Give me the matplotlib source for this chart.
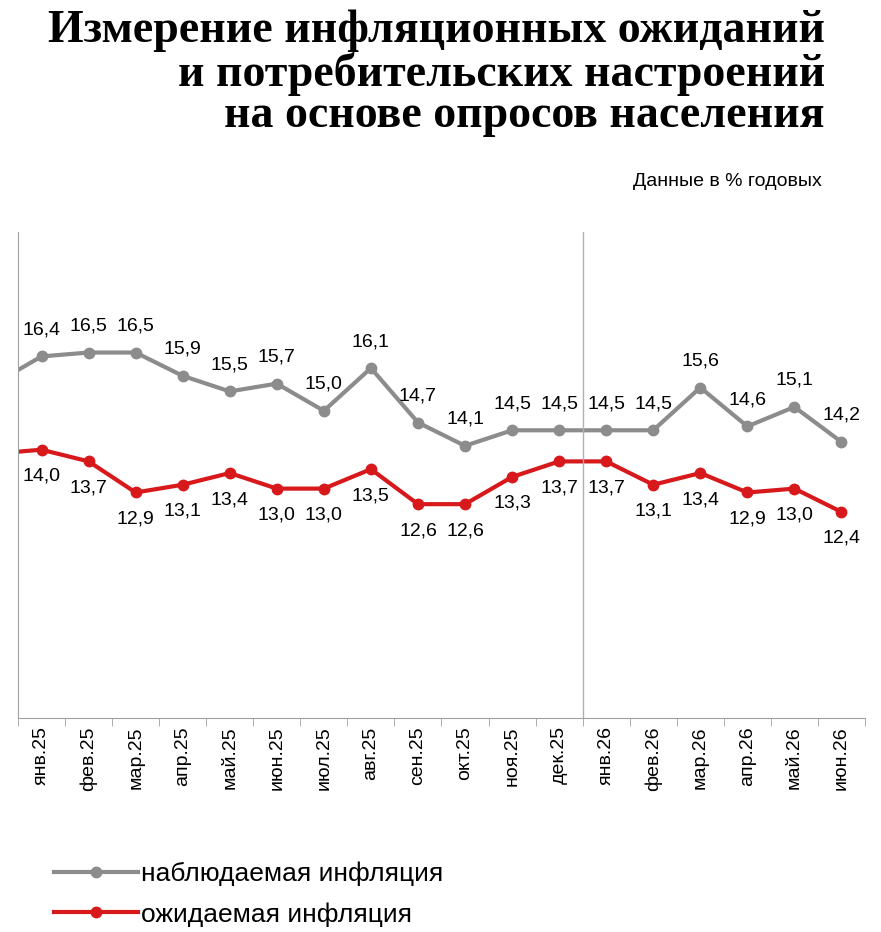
import matplotlib.pyplot as plt

months = ['янв.25', 'фев.25', 'мар.25', 'апр.25', 'май.25', 'июн.25', 'июл.25', 'авг.25',
          'сен.25', 'окт.25', 'ноя.25', 'дек.25', 'янв.26', 'фев.26', 'мар.26', 'апр.26',
          'май.26', 'июн.26']
observed = [16.4, 16.5, 16.5, 15.9, 15.5, 15.7, 15.0, 16.1, 14.7, 14.1, 14.5, 14.5,
            14.5, 14.5, 15.6, 14.6, 15.1, 14.2]
expected = [14.0, 13.7, 12.9, 13.1, 13.4, 13.0, 13.0, 13.5, 12.6, 12.6, 13.3, 13.7,
            13.7, 13.1, 13.4, 12.9, 13.0, 12.4]
# previous month (partly visible at left edge)
observed_prev = 15.7
expected_prev = 13.9

plt.rcParams['font.family'] = ['Liberation Sans', 'DejaVu Sans']
fig = plt.figure(figsize=(8.81, 9.32), dpi=100)
ax = fig.add_axes([18 / 881, 1 - 718 / 932, 847 / 881, 486 / 932])

gray = '#8c8c8c'
red = '#d7191c'
xs = list(range(len(months)))
ax.plot([-1] + xs, [observed_prev] + observed, color=gray, lw=3, marker='o', ms=7.5,
        markevery=list(range(1, len(xs) + 1)), label='наблюдаемая инфляция')
ax.plot([-1] + xs, [expected_prev] + expected, color=red, lw=3, marker='o', ms=7.5,
        markevery=list(range(1, len(xs) + 1)), label='ожидаемая инфляция')

for x, v in zip(xs, observed):
    ax.annotate(f'{v:.1f}'.replace('.', ','), (x, v), xytext=(0, 13), textcoords='offset points',
                ha='center', va='bottom', fontsize=14)
for x, v in zip(xs, expected):
    ax.annotate(f'{v:.1f}'.replace('.', ','), (x, v), xytext=(0, -13), textcoords='offset points',
                ha='center', va='top', fontsize=14)

ax.axvline(11.5, color='#b0b0b0', lw=1)
ax.set_xlim(-0.47, 17.5)
ax.set_ylim(7.1, 19.6)
ax.set_yticks([])
ax.set_xticks(xs)
ax.set_xticklabels(months, rotation=90, fontsize=14)
ax.set_xticks([x + 0.5 for x in [-1] + xs], minor=True)
ax.tick_params(axis='x', which='major', length=0, pad=6)
ax.tick_params(axis='x', which='minor', length=6, color='#a0a0a0')
for s in ['top', 'right']:
    ax.spines[s].set_visible(False)
for s in ['left', 'bottom']:
    ax.spines[s].set_color('#a0a0a0')

fig.text(825 / 881, 1 - 10 / 932, 'Измерение инфляционных ожиданий\nи потребительских настроений\nна основе опросов населения',
         ha='right', va='top', fontsize=33, fontweight='bold', family='Liberation Serif',
         linespacing=0.98)
fig.text(822 / 881, 1 - 182 / 932, 'Данные в % годовых', ha='right', va='center', fontsize=14)

fig.legend(loc='upper left', bbox_to_anchor=(30 / 881, 1 - 838 / 932), frameon=False,
           fontsize=19, handlelength=3.2, labelspacing=0.6, handletextpad=0.1)

fig.savefig('out.png', dpi=100)
